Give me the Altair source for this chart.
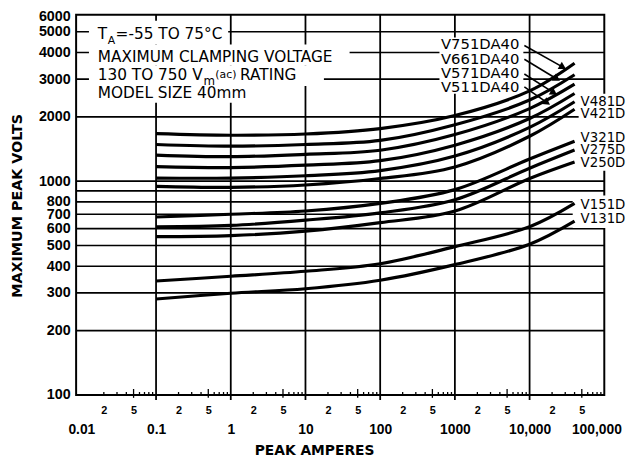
import altair as alt
import pandas as pd

# ---------------- data ----------------
amps = [0.1, 1, 10, 100, 1000, 10000, 40000]

V751 = [1669, 1640, 1662, 1762, 2028, 2645, 3564]
V661 = [1485, 1458, 1485, 1551, 1837, 2396, 3147]
V571 = [1325, 1302, 1335, 1395, 1652, 2185, 2842]
V511 = [1170, 1158, 1188, 1247, 1474, 1965, 2571]
V481 = [1034, 1034, 1060, 1121, 1311, 1785, 2353]
V421 = [946, 936, 960, 1029, 1166, 1622, 2169]
V321 = [680, 700, 725, 787, 913, 1270, 1538]
V275 = [612, 621, 657, 711, 819, 1150, 1398]
V250 = [550, 556, 584, 640, 725, 1030, 1230]
V151 = [341, 359, 379, 411, 494, 612, 787]
V131 = [281, 299, 314, 344, 407, 507, 650]

models = ["V751DA40", "V661DA40", "V571DA40", "V511DA40", "V481DA40", "V421DA40",
          "V321DA40", "V275DA40", "V250DA40", "V151DA40", "V131DA40"]
curves = [V751, V661, V571, V511, V481, V421, V321, V275, V250, V151, V131]

# axis ticks / labels
y_tick_values = [100, 200, 300, 400, 500, 600, 700, 800, 1000, 2000, 3000, 4000, 5000, 6000]
y_grid_values = [200, 300, 400, 500, 600, 700, 800, 900, 1000, 2000, 3000, 4000, 5000]
x_decades = [0.01, 0.1, 1, 10, 100, 1000, 10000, 100000]
x_decade_labels = ["0.01", "0.1", "1", "10", "100", "1000", "10,000", "100,000"]
x_minor_mult = [2, 5]
x_grid_decades = [0.1, 1, 10, 100, 1000, 10000]

# annotations (positions in data units: amperes, volts)
head_lines = [
    ("T", 0.0166, 4614, 15.5),
    ("A", 0.02253, 4361, 11),
    ("=-55 TO 75°C", 0.02875, 4614, 15.5),
    ("MAXIMUM CLAMPING VOLTAGE", 0.0166, 3601, 15.5),
    ("130 TO 750 V", 0.0166, 2965, 15.5),
    ("m", 0.4312, 2805, 12),
    ("(ac)", 0.6215, 3037, 11),
    ("RATING", 1.33, 2965, 15.5),
    ("MODEL SIZE 40mm", 0.0166, 2438, 15.5),
]
top_labels = [("V751DA40", 7306, 4375), ("V661DA40", 7306, 3729),
              ("V571DA40", 7306, 3215), ("V511DA40", 7306, 2761)]
side_labels = [("V481D", 48190, 2353), ("V421D", 48190, 2061),
               ("V321D", 48190, 1593), ("V275D", 48190, 1398),
               ("V250D", 48190, 1217), ("V151D", 48190, 775),
               ("V131D", 48190, 664)]
arrows = [  # x1, y1, x2, y2, angle
    (8511, 4315, 27870, 3415, 30),
    (8511, 3719, 23220, 3006, 31),
    (8511, 3171, 21200, 2590, 32),
    (8511, 2761, 17130, 2329, 35),
]
masks = [  # white boxes behind texts: x, x2, y, y2
    (0.01264, 0.923, 5629, 4361),
    (0.01264, 38.96, 4361, 3487),
    (0.01264, 17.66, 3487, 2790),
    (0.01264, 1.645, 2790, 2329),
    (621.5, 8253, 4699, 2563),
    (45360, 201400, 2563, 1118),
    (37780, 201400, 857, 603.4),
]

# ---------------- tables ----------------
curve_df = pd.DataFrame([{"model": m, "amps": a, "volts": v}
                         for m, vals in zip(models, curves) for a, v in zip(amps, vals)])
hgrid_df = pd.DataFrame({"v": y_grid_values})
vgrid_df = pd.DataFrame({"x": x_grid_decades, "y": [6000] * len(x_grid_decades),
                         "y2": [94.8] * len(x_grid_decades)})
minor_rows = []
for d in x_decades[:-1]:
    for m in range(2, 10):
        if m == 5:
            minor_rows.append({"x": m * d, "y": 96.9, "y2": 106.6})
        else:
            minor_rows.append({"x": m * d, "y": 100, "y2": 103.2})
minor_df = pd.DataFrame(minor_rows)
mask_df = pd.DataFrame(masks, columns=["x", "x2", "y", "y2"])
head_df = pd.DataFrame(head_lines, columns=["text", "x", "y", "fs"])
top_df = pd.DataFrame(top_labels, columns=["text", "x", "y"])
side_df = pd.DataFrame(side_labels, columns=["text", "x", "y"])
arrow_df = pd.DataFrame(arrows, columns=["x1", "y1", "x2", "y2", "ang"])

# x tick values and label expression built from the lists
x_tick_vals, x_tick_txt = [], []
for d, lab in zip(x_decades, x_decade_labels):
    x_tick_vals.append(d)
    x_tick_txt.append(lab)
for d in x_decades[:-1]:
    for m in x_minor_mult:
        x_tick_vals.append(m * d)
        x_tick_txt.append(str(m))
expr = "''"
for v, t in zip(x_tick_vals, x_tick_txt):
    expr = f"abs(datum.value / {v} - 1) < 0.001 ? '{t}' : ({expr})"
dec_test = "abs(log(datum.value) / LN10 - round(log(datum.value) / LN10)) < 0.01"

xs = alt.Scale(type="log", domain=[0.00851, 100000], nice=False)
ys = alt.Scale(type="log", domain=[100, 6000], nice=False)

x_axis = alt.Axis(
    values=x_tick_vals, labelExpr=expr, ticks=False, domain=False, grid=False,
    labelOverlap=False, labelFlush=False, labelBound=False,
    labelFont="Liberation Sans", labelFontWeight="bold", labelColor="black",
    labelFontSize={"condition": {"test": dec_test, "value": 14}, "value": 11},
    labelPadding={"condition": {"test": dec_test, "value": 35}, "value": 16},
    labelOffset={"condition": {"test": "datum.value > 50000", "value": -8}, "value": 0},
    labelBaseline="middle",
    title="PEAK AMPERES", titleFont="DejaVu Sans", titleFontSize=14,
    titleFontWeight="bold", titleColor="black", titleX=241, titleY=56,
    titleAlign="center", titleBaseline="middle",
)
y_axis = alt.Axis(
    values=y_tick_values, format="d", ticks=False, domain=False, grid=False,
    labelOverlap=False, labelFlush=False, labelFont="Liberation Sans",
    labelFontWeight="bold", labelFontSize=14.5, labelPadding=6, labelColor="black",
    labelOffset={"condition": {"test": "datum.value > 5500", "value": 2}, "value": 0},
    title="MAXIMUM PEAK VOLTS", titleFont="DejaVu Sans", titleFontSize=14.5,
    titleFontWeight="bold", titleColor="black", titleAngle=270, titleX=-59,
    titleY=193, titleAlign="center", titleBaseline="middle",
)


def X(field):
    return alt.X(field, scale=xs, axis=x_axis)


def Y(field):
    return alt.Y(field, scale=ys, axis=y_axis)


hgrid = alt.Chart(hgrid_df).mark_rule(color="black", strokeWidth=1.7).encode(y=Y("v:Q"))
vgrid = alt.Chart(vgrid_df).mark_rule(color="black", strokeWidth=1.8).encode(
    x=X("x:Q"), y=Y("y:Q"), y2="y2:Q")
minor = alt.Chart(minor_df).mark_rule(color="black", strokeWidth=1.3).encode(
    x=X("x:Q"), y=Y("y:Q"), y2="y2:Q")
mask = alt.Chart(mask_df).mark_rect(fill="white").encode(
    x=X("x:Q"), x2="x2:Q", y=Y("y:Q"), y2="y2:Q")
lines = alt.Chart(curve_df).mark_line(color="black", strokeWidth=3.2,
                                      interpolate="catmull-rom").encode(
    x=X("amps:Q"), y=Y("volts:Q"), detail="model:N")
arrow_lines = alt.Chart(arrow_df).mark_rule(color="black", strokeWidth=1.6).encode(
    x=X("x1:Q"), x2="x2:Q", y=Y("y1:Q"), y2="y2:Q")
arrow_heads = alt.Chart(arrow_df).mark_point(shape="triangle-right", filled=True, color="black",
                                              size=70, opacity=1).encode(
    x=X("x2:Q"), y=Y("y2:Q"), angle=alt.Angle("ang:Q", scale=None))
head_txt = alt.Chart(head_df).mark_text(align="left", baseline="alphabetic", font="DejaVu Sans",
                                        color="black").encode(
    x=X("x:Q"), y=Y("y:Q"), text="text:N", size=alt.Size("fs:Q", scale=None))
top_txt = alt.Chart(top_df).mark_text(align="right", baseline="middle", font="DejaVu Sans",
                                      fontSize=15, color="black").encode(
    x=X("x:Q"), y=Y("y:Q"), text="text:N")
side_txt = alt.Chart(side_df).mark_text(align="left", baseline="middle", font="DejaVu Sans",
                                        fontSize=13.5, color="black").encode(
    x=X("x:Q"), y=Y("y:Q"), text="text:N")

chart = alt.layer(
    hgrid, vgrid, minor, mask, lines, arrow_lines, arrow_heads, head_txt, top_txt, side_txt
).properties(
    width=535, height=385,
    padding={"left": 69, "top": 4, "right": 23, "bottom": 64},
    autosize=alt.AutoSizeParams(type="none"),
    background="white",
).configure_view(stroke="black", strokeWidth=2)

chart.save("out.html", embed_options={"renderer": "svg", "actions": False})
